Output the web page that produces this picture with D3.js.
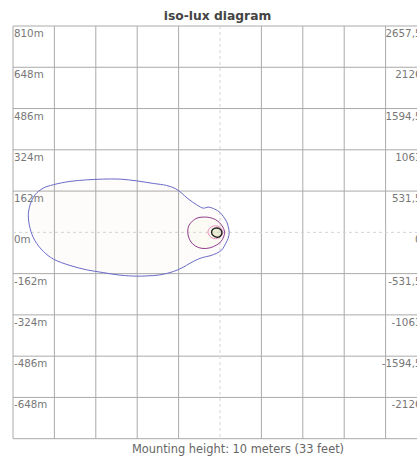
<!DOCTYPE html>
<html><head><meta charset="utf-8">
<script src="https://cdn.jsdelivr.net/npm/d3@7"></script>
<style>
html,body{margin:0;padding:0;background:#fff;overflow:hidden;}
svg{display:block;}
text{font-family:"DejaVu Sans",Verdana,sans-serif;}
</style></head>
<body>
<script>
// ---- data (metres) ----
const title = "iso-lux diagram";
const caption = "Mounting height: 10 meters (33 feet)";
const rowValues = [810, 648, 486, 324, 162, 0, -162, -324, -486, -648];
const leftLabels = ["810m","648m","486m","324m","162m","0m","-162m","-324m","-486m","-648m"];
const rightLabels = ["2657,5","2126","1594,5","1063","531,5","0","-531,5","-1063","-1594,5","-2126"];
const gridValues = [-810,-648,-486,-324,-162,0,162,324,486,648,810];

const blueContour = [[-750,69],[-743,108],[-724,147],[-691,174],[-652,187],[-587,200],[-522,206],[-457,209],[-391,209],[-326,202],[-261,192],[-209,184],[-175,172],[-150,154],[-125,132],[-91,108],[-65,95],[-46,99],[-20,91],[0,78],[13,62],[26,42],[32,23],[36,-1],[32,-23],[23,-42],[7,-69],[-13,-82],[-39,-92],[-65,-98],[-85,-105],[-117,-121],[-144,-137],[-183,-154],[-235,-167],[-287,-171],[-326,-172],[-391,-168],[-457,-158],[-522,-147],[-587,-130],[-652,-105],[-691,-75],[-724,-33],[-743,15]];
const purpleContour = [[-126,-2],[-122,26],[-108,44],[-90,56],[-66,60],[-40,58],[-18,50],[-2,38],[11,21],[18,0],[14,-18],[4,-36],[-14,-50],[-40,-61],[-70,-63],[-96,-54],[-116,-34]];
const pinkContour = [[-47,1],[-41,16],[-26,25],[-8,24],[6,14],[11,0],[6,-13],[-8,-23],[-26,-24],[-41,-14]];
const blackContour = [[-33,0],[-28,12],[-14,17],[0,13],[7,3],[5,-10],[-6,-19],[-20,-17],[-30,-9]];

// ---- layout ----
const W = 460, H = 459;
const x = d3.scaleLinear().domain([-810, 810]).range([13, 427]);
const y = d3.scaleLinear().domain([-810, 810]).range([438.7, 26]);

const svg = d3.select("body").append("svg").attr("width", W).attr("height", H);

const line = d3.line().x(d => x(d[0])).y(d => y(d[1])).curve(d3.curveCatmullRomClosed.alpha(0.5));

const contours = [
  {data: blueContour, stroke: "#6a6ac8", fill: "#fefcfa", sw: 1},
  {data: purpleContour, stroke: "#8f3b8f", fill: "#fbfaf3", sw: 1},
  {data: pinkContour, stroke: "#f08cc0", fill: "#f7f6ec", sw: 1},
  {data: blackContour, stroke: "#222", fill: "#eaedd4", sw: 1.4}
];

// fills
svg.append("g").selectAll("path").data(contours).join("path")
  .attr("d", d => line(d.data)).attr("fill", d => d.fill).attr("stroke", "none");

// grid
const g = svg.append("g");
g.selectAll(".v").data(gridValues.filter(v => v !== 0)).join("line")
  .attr("x1", d => x(d)).attr("x2", d => x(d)).attr("y1", y(810)).attr("y2", y(-810))
  .attr("stroke", "#aaa").attr("stroke-width", 1);
g.selectAll(".h").data(gridValues.filter(v => v !== 0)).join("line")
  .attr("y1", d => y(d)).attr("y2", d => y(d)).attr("x1", x(-810)).attr("x2", x(810))
  .attr("stroke", "#aaa").attr("stroke-width", 1);
// centre dashed lines
g.append("line").attr("x1", x(0)).attr("x2", x(0)).attr("y1", y(810)).attr("y2", y(-810))
  .attr("stroke", "#d4d4d4").attr("stroke-dasharray", "3,3");
g.append("line").attr("y1", y(0)).attr("y2", y(0)).attr("x1", x(-810)).attr("x2", x(810))
  .attr("stroke", "#d4d4d4").attr("stroke-dasharray", "3,3");

// contour strokes
svg.append("g").selectAll("path").data(contours).join("path")
  .attr("d", d => line(d.data)).attr("fill", "none")
  .attr("stroke", d => d.stroke).attr("stroke-width", d => d.sw);

// labels
svg.append("g").selectAll("text").data(rowValues).join("text")
  .attr("x", 14).attr("y", d => y(d) + 11)
  .attr("font-size", "10.3px").attr("fill", "#777")
  .text((d, i) => leftLabels[i]);
svg.append("g").selectAll("text").data(rowValues).join("text")
  .attr("x", 421.5).attr("y", d => y(d) + 11).attr("text-anchor", "end")
  .attr("font-size", "10.3px").attr("fill", "#777")
  .text((d, i) => rightLabels[i]);

svg.append("text").attr("x", 217.5).attr("y", 20).attr("text-anchor", "middle")
  .attr("font-size", "12.3px").attr("font-weight", "bold").attr("fill", "#444").text(title);
svg.append("text").attr("x", 238).attr("y", 453).attr("text-anchor", "middle")
  .attr("font-size", "11.4px").attr("fill", "#666").text(caption);
</script>
</body></html>
